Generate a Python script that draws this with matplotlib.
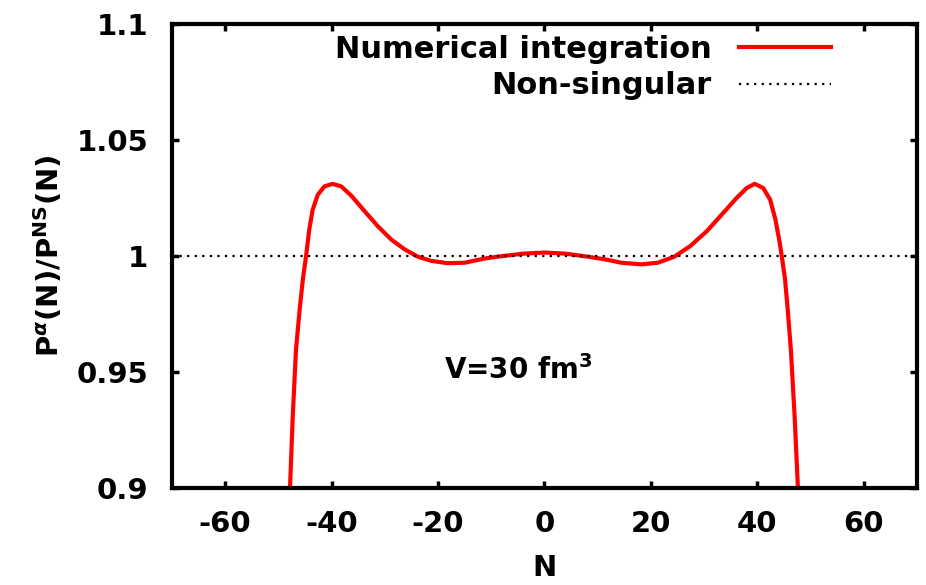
import matplotlib
matplotlib.use("Agg")
import matplotlib.pyplot as plt

# Ratio P^alpha(N)/P^NS(N)
n_vals = [-48.0, -47.8, -47.3, -46.7, -46.0, -45.4, -44.8, -44.2, -43.55, -42.6,
          -41.35, -39.8, -38.2, -36.3, -33.8, -31.3, -28.8, -26.3, -23.8, -21.3,
          -18.2, -15.0, -11.3, -8.5, -4.0, 0.0, 4.0, 7.8, 11.3, 14.4,
          18.2, 21.3, 24.4, 27.4, 30.5, 33.6, 36.1, 38.0, 39.5, 41.1,
          42.4, 43.4, 44.2, 44.6, 45.2, 45.7, 46.3, 47.0, 47.6, 47.8]
ratio = [0.890, 0.901, 0.931, 0.9595, 0.977, 0.990, 1.0, 1.0114, 1.020, 1.0264,
         1.030, 1.0311, 1.030, 1.026, 1.0193, 1.0128, 1.0071, 1.0029, 0.9997, 0.9979,
         0.9969, 0.9971, 0.9989, 0.9998, 1.001, 1.0015, 1.001, 0.9998, 0.9986, 0.9971,
         0.9964, 0.9971, 0.9997, 1.0043, 1.0107, 1.0186, 1.025, 1.0293, 1.0311, 1.0293,
         1.0243, 1.0157, 1.0057, 0.9997, 0.990, 0.977, 0.9595, 0.931, 0.901, 0.890]

ns_x = [-70, 70]
ns_y = [1.0, 1.0]

xticks = [-60, -40, -20, 0, 20, 40, 60]
yticks = [0.9, 0.95, 1.0, 1.05, 1.1]
ytick_labels = ["0.9", "0.95", "1", "1.05", "1.1"]

plt.rcParams['font.family'] = 'DejaVu Sans'
plt.rcParams['font.weight'] = 'bold'
plt.rcParams['axes.unicode_minus'] = False
plt.rcParams['mathtext.fontset'] = 'custom'
plt.rcParams['mathtext.rm'] = 'DejaVu Sans:bold'
plt.rcParams['mathtext.bf'] = 'DejaVu Sans:bold'
plt.rcParams['mathtext.it'] = 'DejaVu Sans:bold:italic'

fig = plt.figure(figsize=(9.26, 5.85), dpi=100)
ax = fig.add_axes([0.1857, 0.1658, 0.8046, 0.7932])

ax.plot(n_vals, ratio, color='red', lw=3, label='Numerical integration',
        solid_joinstyle='round')
ax.plot(ns_x, ns_y, color='black', lw=1.6, linestyle=(0, (1, 2.4)), label='Non-singular')

ax.set_xlim(-70, 70)
ax.set_ylim(0.9, 1.1)
ax.set_xticks(xticks)
ax.set_yticks(yticks)
ax.set_yticklabels(ytick_labels)

for s in ax.spines.values():
    s.set_linewidth(3)
ax.tick_params(direction='in', length=5, width=2.5, top=True, right=True,
               labelsize=21)
ax.tick_params(axis='x', pad=16)
ax.tick_params(axis='y', pad=17)

ax.set_xlabel('N', fontsize=21, fontweight='bold', labelpad=11)
ax.set_ylabel(r'P$^{\alpha}$(N)/P$^{\rm NS}$(N)', fontsize=21, fontweight='bold', labelpad=8)

ax.text(-5.0, 0.951, r'V=30 fm$^{\rm 3}$', fontsize=20, fontweight='bold',
        ha='center', va='center')

ax.legend(loc='upper right', bbox_to_anchor=(0.905, 1.01), frameon=False,
          markerfirst=False, fontsize=22, handlelength=3.0, handletextpad=0.9,
          labelspacing=0.25, borderaxespad=0.1)

fig.savefig('out.png', dpi=100)
